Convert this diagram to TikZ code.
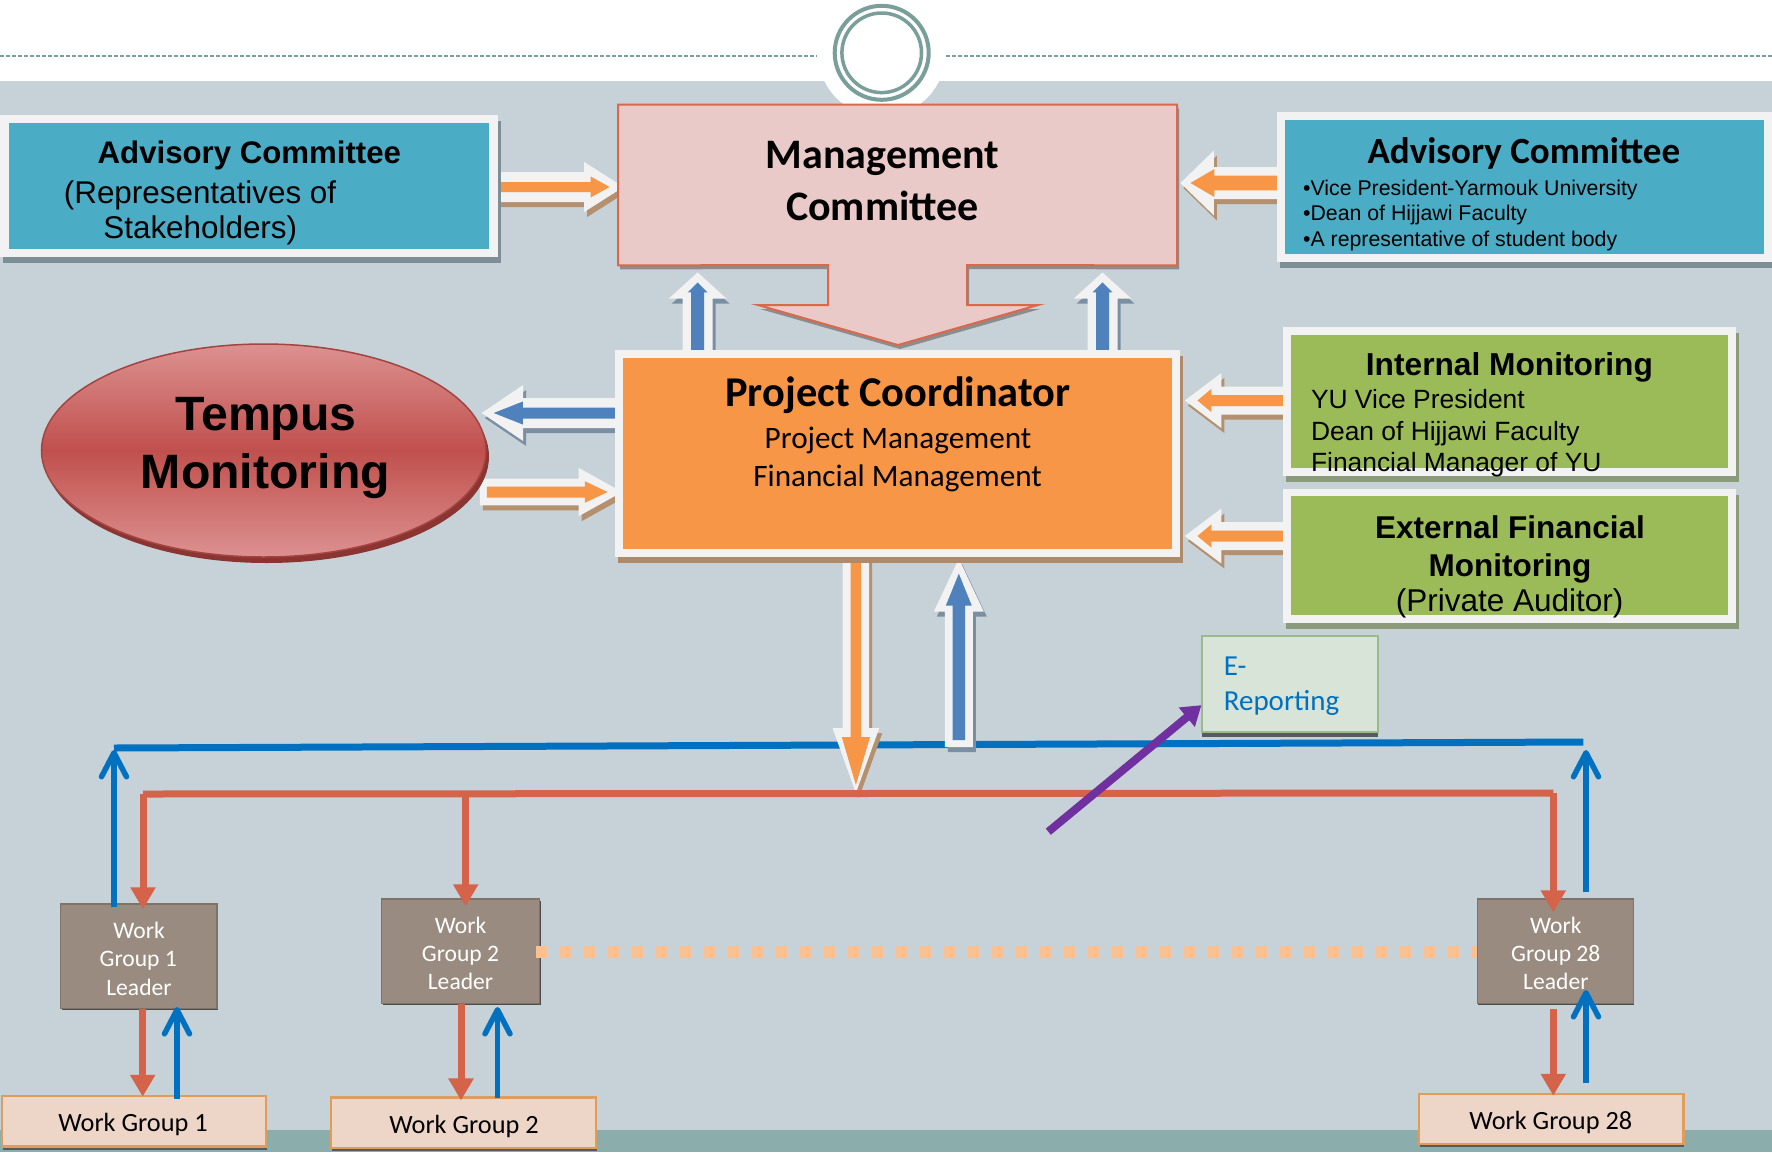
\documentclass[tikz,border=0pt]{standalone}
\usepackage{fontspec}
\newfontfamily\arial{Liberation Sans}
\newfontfamily\calibri{Carlito}
\usetikzlibrary{calc,arrows.meta,shapes.geometric}
\definecolor{bg}{HTML}{C6D2D8}
\definecolor{band}{HTML}{8BAEAC}
\definecolor{ring}{HTML}{7A9E9A}
\definecolor{aqua}{HTML}{4BACC6}
\definecolor{framewhite}{HTML}{F2F2F2}
\definecolor{orangeA}{HTML}{F79646}
\definecolor{blueA}{HTML}{4F81BD}
\definecolor{greenA}{HTML}{9BBB59}
\definecolor{mgfill}{HTML}{EACAC8}
\definecolor{mgline}{HTML}{D9694C}
\definecolor{tred}{HTML}{C0504D}
\definecolor{tpink}{HTML}{DC9190}
\definecolor{tdark}{HTML}{8B3532}
\definecolor{busblue}{HTML}{0070C0}
\definecolor{busred}{HTML}{D4634A}
\definecolor{purp}{HTML}{7030A0}
\definecolor{dotc}{HTML}{FAC08F}
\definecolor{leadfill}{HTML}{998B7F}
\definecolor{leadline}{HTML}{7F7266}
\definecolor{wgfill}{HTML}{EDD6C8}
\definecolor{wgline}{HTML}{E09C5A}
\definecolor{erfill}{HTML}{D8E4D8}
\definecolor{erline}{HTML}{98BB8C}
\definecolor{shgray}{HTML}{7E8E97}
\definecolor{shbrown}{HTML}{B08A68}
\definecolor{shgreen}{HTML}{8A9A7A}
\definecolor{shorange}{HTML}{B4906E}
\definecolor{shblue}{HTML}{7B8FA4}
\definecolor{shmg}{HTML}{8C8C8C}

\pgfdeclarelayer{back}\pgfdeclarelayer{arr}\pgfdeclarelayer{front}
\pgfsetlayers{back,arr,main,front}

% block arrow: #1 start, #2 coloured tip, #3 half shaft, #4 half head, #5 head length,
% #6 outer half shaft, #7 outer half head, #8 outer head length, #9 outer tip extension
\newcommand\barrow[9]{%
  \coordinate (baT) at ($(#2)!-#9!(#1)$);
  \coordinate (baS) at ($(#1)!-3.5pt!(#2)$);
  \coordinate (baCo) at ($(baT)!#8!(baS)$);
  \coordinate (baCi) at ($(#2)!#5!(#1)$);
  \path[fill=\bashadow, transform canvas={xshift=1.5pt,yshift=-2.5pt}]
    ($(baS)!#6!90:(baT)$) -- ($(baCo)!#6!90:(baT)$) -- ($(baCo)!#7!90:(baT)$) -- (baT)
    -- ($(baCo)!#7!-90:(baT)$) -- ($(baCo)!#6!-90:(baT)$) -- ($(baS)!#6!-90:(baT)$) -- cycle;
  \path[fill=framewhite]
    ($(baS)!#6!90:(baT)$) -- ($(baCo)!#6!90:(baT)$) -- ($(baCo)!#7!90:(baT)$) -- (baT)
    -- ($(baCo)!#7!-90:(baT)$) -- ($(baCo)!#6!-90:(baT)$) -- ($(baS)!#6!-90:(baT)$) -- cycle;
  \path[fill=\bafill]
    ($(#1)!#3!90:(#2)$) -- ($(baCi)!#3!90:(#2)$) -- ($(baCi)!#4!90:(#2)$) -- (#2)
    -- ($(baCi)!#4!-90:(#2)$) -- ($(baCi)!#3!-90:(#2)$) -- ($(#1)!#3!-90:(#2)$) -- cycle;
}
\newcommand\oarrow{\def\bafill{orangeA}\def\bashadow{shorange}\barrow}
\newcommand\barrowblue{\def\bafill{blueA}\def\bashadow{shblue}\barrow}

\tikzset{
  wbox/.style={draw=framewhite, inner sep=0pt, line width=#1},
  bshadow/.style={preaction={draw=#1, fill=#1, transform canvas={xshift=1.5pt,yshift=-3pt}}},
  txt/.style={inner sep=0pt, anchor=base},
  ltxt/.style={inner sep=0pt, anchor=base west},
  lead/.style={fill=leadfill, draw=leadline, line width=0.75pt, inner sep=0pt,
    preaction={fill=gray!60!black, transform canvas={xshift=0.5pt,yshift=-1pt}}},
  wgbox/.style={fill=wgfill, draw=wgline, line width=1.25pt, inner sep=0pt,
    preaction={fill=gray!70!black, transform canvas={xshift=0.5pt,yshift=-1.5pt}}},
  redarr/.style={draw=busred, line width=3.5pt, -{Triangle[width=12pt,length=11pt]}},
  bluearr/.style={draw=busblue, line width=2.75pt, -{Straight Barb[width=12.5pt,length=12pt,round]}},
  leadtxt/.style={txt, text=white, font=\calibri\fontsize{11.8}{14}\selectfont},
  wgtxt/.style={txt, font=\calibri\fontsize{13.15}{16}\selectfont},
}

\begin{document}
\begin{tikzpicture}[x=0.5pt, y=-0.5pt]
\useasboundingbox (0,0) rectangle (1772,1152);

% ---------- background ----------
\begin{pgfonlayer}{back}
\fill[white] (0,0) rectangle (1772,81);
\fill[bg] (0,81) rectangle (1772,1130);
\fill[band] (0,1130) rectangle (1772,1152);
\draw[ring, line width=1pt, dash pattern=on 2pt off 1pt] (0,56) -- (817,56);
\draw[ring, line width=1pt, dash pattern=on 2pt off 1pt] (946,56) -- (1772,56);
\fill[white] (881.7,52.8) circle[radius=32pt];
\draw[ring, line width=2pt] (881.7,52.8) circle[radius=23.5pt];
\draw[ring, line width=1.75pt] (881.7,52.8) circle[radius=19.9pt];
\coordinate (blueL) at (114,748);
\coordinate (blueR) at (1583.3,742);
\draw[busblue, line width=3.5pt] (blueL) -- (blueR);
\end{pgfonlayer}

% ---------- boxes ----------
\node[inner sep=0pt, minimum width=279.15pt, minimum height=80pt] (mgmt) at (897.55,185) {};
\path[fill=shmg, transform canvas={xshift=1pt,yshift=-2pt}]
  (mgmt.north west) -- (mgmt.north east) -- (mgmt.south east) -- (967,265) -- (967,305)
  -- (1038,305) -- (898,345) -- (758,305) -- (828,305) -- (828,265) -- (mgmt.south west) -- cycle;
\path[fill=mgfill, draw=mgline, line width=1pt]
  (mgmt.north west) -- (mgmt.north east) -- (mgmt.south east) -- (967,265) -- (967,305)
  -- (1038,305) -- (898,345) -- (758,305) -- (828,305) -- (828,265) -- (mgmt.south west) -- cycle;

\node[wbox=4.25pt, fill=aqua, bshadow=shgray, minimum width=244.4pt, minimum height=66.9pt] (adv1) at (248.9,185.9) {};
\node[wbox=4pt, fill=aqua, bshadow=shgray, minimum width=243.5pt, minimum height=70.75pt] (adv2) at (1524.5,187.1) {};
\node[wbox=3.75pt, fill=greenA, bshadow=shgreen, minimum width=222.4pt, minimum height=70.5pt] (intmon) at (1509.6,401.5) {};
\node[wbox=3.75pt, fill=greenA, bshadow=shgreen, minimum width=222.4pt, minimum height=63.25pt] (extmon) at (1509.6,555.6) {};
\node[wbox=3.85pt, fill=orangeA, bshadow=shbrown, minimum width=278.5pt, minimum height=99.4pt] (coord) at (897.7,453.4) {};
\node[ellipse, draw=tred!85!black, line width=0.75pt, top color=tpink, bottom color=tpink, middle color=tred,
  minimum width=222.25pt, minimum height=106.5pt, inner sep=0pt,
  preaction={fill=tdark, transform canvas={xshift=1.5pt,yshift=-3pt}}] (tempus) at (263.75,450.5) {};
\node[draw=erline, fill=erfill, line width=1pt, inner sep=0pt, minimum width=87.8pt, minimum height=48.15pt,
  preaction={fill=gray!70!black, transform canvas={yshift=-2.5pt}}] (ereport) at (1290.2,684.15) {};
\node[lead, minimum width=78.25pt, minimum height=52.15pt] (wgl1) at (138.75,956.15) {};
\node[lead, minimum width=79.05pt, minimum height=52.15pt] (wgl2) at (460.55,951.15) {};
\node[lead, minimum width=78pt, minimum height=52.15pt] (wgl28) at (1555.3,951.15) {};
\node[wgbox, minimum width=132pt, minimum height=25.35pt] (wg1) at (134,1121.35) {};
\node[wgbox, minimum width=132.5pt, minimum height=25.15pt] (wg2) at (463.5,1122.85) {};
\node[wgbox, minimum width=132.15pt, minimum height=25pt] (wg28) at (1551.15,1119) {};

% ---------- block arrows ----------
\begin{pgfonlayer}{arr}
\coordinate (A1s) at (adv1.east |- 0,187);
\coordinate (A1e) at ($(mgmt.west |- 0,187)+(-8.4,0)$);
\oarrow{A1s}{A1e}{2.5pt}{5.25pt}{9.5pt}{7.5pt}{12.5pt}{19.7pt}{7pt}
\coordinate (A2s) at (adv2.west |- 0,183);
\coordinate (A2e) at ($(mgmt.east |- 0,183)+(13.3,0)$);
\oarrow{A2s}{A2e}{3.65pt}{7pt}{12pt}{8pt}{16.25pt}{16.75pt}{5pt}
\coordinate (A3s) at (coord.west |- 0,413);
\coordinate (A3e) at ($(tempus.east |- 0,413)+(7,0)$);
\barrowblue{A3s}{A3e}{2.75pt}{5.75pt}{14.5pt}{7.5pt}{14pt}{20.7pt}{6pt}
\coordinate (A4s) at (tempus.east |- 0,492);
\coordinate (A4e) at ($(coord.west |- 0,492)+(-7.7,0)$);
\oarrow{A4s}{A4e}{2.75pt}{5.4pt}{11.4pt}{6.65pt}{12.1pt}{21.75pt}{7.25pt}
\coordinate (A5s) at (intmon.west |- 0,400.5);
\coordinate (A5e) at ($(coord.east |- 0,400.5)+(17.4,0)$);
\oarrow{A5s}{A5e}{2.75pt}{5.85pt}{7pt}{7pt}{13.75pt}{18.2pt}{6.3pt}
\coordinate (A6s) at (extmon.west |- 0,536);
\coordinate (A6e) at ($(coord.east |- 0,536)+(17.4,0)$);
\oarrow{A6s}{A6e}{2.75pt}{5.85pt}{7pt}{7pt}{13.75pt}{18.2pt}{6.3pt}
\coordinate (A7s) at (697.6,0 |- coord.north);
\coordinate (A7e) at ($(697.6,0 |- mgmt.south)+(0,17)$);
\barrowblue{A7s}{A7e}{3.25pt}{5pt}{5pt}{7.5pt}{14.5pt}{13.15pt}{5pt}
\coordinate (A8s) at (1102.5,0 |- coord.north);
\coordinate (A8e) at ($(1102.5,0 |- mgmt.south)+(0,17)$);
\barrowblue{A8s}{A8e}{3.25pt}{5pt}{5pt}{7.5pt}{14.5pt}{13.15pt}{5pt}
\coordinate (A9s) at (855.9,0 |- coord.south);
\coordinate (A9e) at (855.9,785);
\oarrow{A9s}{A9e}{2.65pt}{7.05pt}{24pt}{6.6pt}{11.7pt}{32.5pt}{4pt}
\coordinate (A10s) at (958.8,740);
\coordinate (A10e) at ($(958.8,0 |- coord.south)+(0,17)$);
\barrowblue{A10s}{A10e}{3.1pt}{6.5pt}{16pt}{7pt}{12.5pt}{26.5pt}{7.5pt}
\end{pgfonlayer}

% ---------- texts ----------
\node[txt, font=\calibri\bfseries\fontsize{21}{25}\selectfont] (mgmtt1) at (882.5,168) {Management};
\node[txt, font=\calibri\bfseries\fontsize{21}{25}\selectfont] (mgmtt2) at (882.5,220) {Committee};

\node[txt, font=\arial\bfseries\fontsize{15.6}{18}\selectfont] (adv1t) at (249.4,163.3) {Advisory Committee};
\node[ltxt, font=\arial\fontsize{15.7}{18}\selectfont] (adv1l1) at (63.5,203.3) {(Representatives of};
\node[ltxt, font=\arial\fontsize{15.7}{18}\selectfont] (adv1l2) at (103,238.3) {Stakeholders)};

\node[txt, font=\calibri\bfseries\fontsize{18.5}{22}\selectfont] (adv2t) at (1523.8,163.3) {Advisory Committee};
\node[ltxt, font=\arial\fontsize{10.65}{12}\selectfont] (adv2l1) at (1302.7,195) {•Vice President-Yarmouk University};
\node[ltxt, font=\arial\fontsize{10.65}{12}\selectfont] (adv2l2) at (1302.7,220.7) {•Dean of Hijjawi Faculty};
\node[ltxt, font=\arial\fontsize{10.65}{12}\selectfont] (adv2l3) at (1302.7,246.7) {•A representative of student body};

\node[txt, font=\arial\bfseries\fontsize{15.85}{18}\selectfont] (intt) at (1509.4,375) {Internal Monitoring};
\node[ltxt, font=\arial\fontsize{13.2}{15}\selectfont] (intl1) at (1310.6,408) {YU Vice President};
\node[ltxt, font=\arial\fontsize{13.2}{15}\selectfont] (intl2) at (1310.6,440) {Dean of Hijjawi Faculty};
\node[ltxt, font=\arial\fontsize{13.2}{15}\selectfont] (intl3) at (1310.6,471.7) {Financial Manager of YU};

\node[txt, font=\arial\bfseries\fontsize{15.75}{18}\selectfont] (extt1) at (1510,538) {External Financial};
\node[txt, font=\arial\bfseries\fontsize{15.75}{18}\selectfont] (extt2) at (1510,576.7) {Monitoring};
\node[txt, font=\arial\fontsize{15.75}{18}\selectfont] (extt3) at (1509.6,611.7) {(Private Auditor)};

\node[txt, font=\calibri\bfseries\fontsize{21.2}{25}\selectfont] (coordt) at (898,406.7) {Project Coordinator};
\node[txt, font=\calibri\fontsize{15.6}{18}\selectfont] (coordl1) at (898,448) {Project Management};
\node[txt, font=\calibri\fontsize{15.6}{18}\selectfont] (coordl2) at (897.6,486.7) {Financial Management};

\node[txt, font=\arial\bfseries\fontsize{24.1}{28}\selectfont] (tempt1) at (266,430) {Tempus};
\node[txt, font=\arial\bfseries\fontsize{24.1}{28}\selectfont] (tempt2) at (265.4,488.3) {Monitoring};

\node[ltxt, text=busblue, font=\calibri\fontsize{14.5}{17}\selectfont] (ert1) at (1223.4,675) {E-};
\node[ltxt, text=busblue, font=\calibri\fontsize{14.5}{17}\selectfont] (ert2) at (1223.4,710) {Reporting};

\node[leadtxt] (wgl1t1) at (139,938) {Work};
\node[leadtxt] (wgl1t2) at (138.3,966.7) {Group 1};
\node[leadtxt] (wgl1t3) at (139,995) {Leader};
\node[leadtxt] (wgl2t1) at (460.5,933.3) {Work};
\node[leadtxt] (wgl2t2) at (460.5,961.7) {Group 2};
\node[leadtxt] (wgl2t3) at (460.5,989.3) {Leader};
\node[leadtxt] (wgl28t1) at (1555.8,933.3) {Work};
\node[leadtxt] (wgl28t2) at (1555.8,961.7) {Group 28};
\node[leadtxt] (wgl28t3) at (1555.8,989.3) {Leader};

\node[wgtxt] (wg1t) at (133,1131.7) {Work Group 1};
\node[wgtxt] (wg2t) at (464,1133.3) {Work Group 2};
\node[wgtxt] (wg28t) at (1550.8,1129.3) {Work Group 28};

% ---------- thin connectors ----------
\begin{pgfonlayer}{front}
\coordinate (redL) at (143,794);
\coordinate (red2) at (465.7,794);
\coordinate (redR) at (1553.3,793);
\draw[busred, line width=3.5pt] (redL) -- (redR);
\draw[redarr] (redL) -- ($(wgl1.north -| redL)+(0,6)$);
\draw[redarr] (red2) -- ($(wgl2.north -| red2)+(0,8)$);
\draw[redarr] (redR) -- ($(wgl28.north -| redR)+(0,14)$);
\draw[bluearr] ($(wgl1.north -| blueL)+(0,4)$) -- ($(blueL)+(0,2)$);
\draw[bluearr] ($(wgl28.north -| 1586,0)+(0,-6)$) -- (1586,750);

\draw[redarr] (wgl1.south -| 142.7,0) -- ($(wg1.north -| 142.7,0)+(0,2)$);
\draw[bluearr] ($(wg1.north -| 177,0)+(0,4)$) -- ($(wgl1.south -| 177,0)+(0,-2)$);
\draw[redarr] (wgl2.south -| 461,0) -- ($(wg2.north -| 461,0)+(0,4)$);
\draw[bluearr] ($(wg2.north -| 497.5,0)+(0,2)$) -- ($(wgl2.south -| 497.5,0)+(0,3)$);
\draw[redarr] ($(wgl28.south -| 1553.3,0)+(0,5)$) -- ($(wg28.north -| 1553.3,0)+(0,3)$);
\draw[bluearr] ($(wg28.north -| 1586,0)+(0,-10)$) -- ($(wgl28.south -| 1586,0)+(0,-14)$);

\draw[dotc, line width=5.75pt, dash pattern=on 5.5pt off 6.5pt] ($(wgl2.east)+(-4,1)$) -- ($(wgl28.west)+(0,1)$);

\coordinate (pstart) at (1048.3,831.7);
\draw[purp, line width=4pt, -{Triangle[width=12pt,length=9.5pt]}] (pstart) -- ($(ereport.west)+(0,21)$);
\end{pgfonlayer}
\end{tikzpicture}
\end{document}
